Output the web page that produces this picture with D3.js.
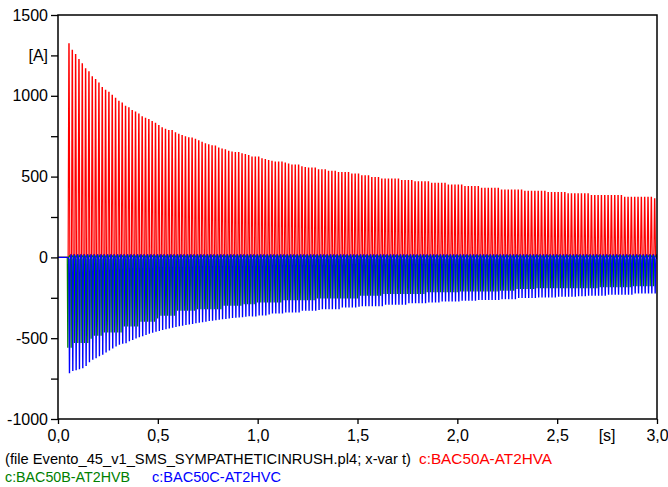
<!DOCTYPE html>
<html><head><meta charset="utf-8">
<script src="https://cdn.jsdelivr.net/npm/d3@7"></script>
<style>
body{margin:0;background:#fff}
svg{display:block}
text{font-family:"Liberation Sans",Arial,Helvetica,sans-serif}
</style>
</head><body>
<svg id="chart" width="668" height="487"></svg>
<script>
// ---- data ----
const xTicks = [0, 0.5, 1, 1.5, 2, 2.5, 3];
const xTickLabels = ["0,0", "0,5", "1,0", "1,5", "2,0", "2,5", "3,0"];
const xUnitLabel = "[s]";
const xUnitPos = 2.75;
const yTicks = [-1000, -750, -500, -250, 0, 250, 500, 750, 1000, 1250, 1500];
const yTickLabels = ["-1000", "", "-500", "", "0", "", "500", "", "1000", "[A]", "1500"];
const seriesNames = ["c:BAC50A-AT2HVA", "c:BAC50B-AT2HVB", "c:BAC50C-AT2HVC"];
const fileLabel = "(file Evento_45_v1_SMS_SYMPATHETICINRUSH.pl4; x-var t)";
const firstPulse = 0.055;   // s, first inrush peak
const period = 1 / 60;      // s, 60 Hz

// peak current of each cycle (A)
const redPeaks = [1321,1282,1255,1224,1197,1166,1148,1117,1100,1079,1050,1034,1021,1003,984,965,955,934,926,909,899,887,870,860,852,841,829,816,802,792,784,784,771,761,754,746,740,738,
730,722,712,703,697,690,689,676,670,666,657,652,649,649,641,636,630,620,620,620,610,605,599,594,589,589,589,583,578,571,571,571,560,556,552,552,552,541,541,541,533,533,533,525,525,525,525,515,515,515,504,504,504,494,494,494,
484,484,484,484,484,484,475,475,475,475,467,467,467,467,467,459,459,459,459,459,448,448,448,448,448,438,438,438,438,438,428,428,428,428,428,428,
417,417,417,417,417,417,417,409,409,409,409,409,409,409,401,401,401,401,401,401,393,393,393,393,393,393,393,
382,382,382,382,382,382,382,382,382,382,372,372,372,372,372,372,372,372,372,362];

const greenPeaks = [-555,-555,-527,-527,-527,-527,-527,-500,-482,-482,-482,-461,-461,-461,-461,-461,-461,-424,-424,-424,-424,-424,
-395,-395,-395,-395,-395,-375,-358,-358,-358,-358,-358,-327,-327,-327,-327,-327,-327,-317,-317,-317,-317,-317,-317,-317,-317,
-296,-296,-296,-296,-296,-296,-286,-286,-286,-286,-275,-275,-275,-275,-275,-275,-275,-275,-261,-261,-261,-261,-261,-261,-261,-261,-261,-261,
-251,-251,-251,-251,-251,-251,-251,-251,-251,-251,-251,-251,-251,-234,-234,-234,-234,-234,-234,-234,
-223,-223,-223,-223,-223,-223,-223,-223,-223,-223,-223,-223,-223,-213,-213,-213,-213,-213,-213,-213,-213,-213,-213,
-208,-208,-208,-208,-208,-208,-208,-208,-208,-208,-208,-208,-203,-203,-203,-203,-203,-192,-192,-192,-192,-192,-192,
-187,-187,-187,-187,-187,-187,-187,-187,-187,-187,-187,-187,-187,-187,-187,-187,-187,-187,-187,
-182,-182,-182,-182,-182,-182,-182,-182,-182,-182,-175,-175,-175,-175,-175,-175,-175];

const bluePeaks = [-713,-699,-695,-688,-682,-668,-645,-630,-620,-608,-598,-585,-573,-560,-547,-537,-530,-527,-515,-507,-498,-490,-484,-477,-468,-463,-456,-452,-446,-441,-437,-431,-427,-423,-419,-415,-411,-408,-404,-401,-397,-394,-390,-388,-385,-382,-379,-377,-374,-372,-370,-368,-366,-364,-360,
-362,-362,-356,-356,-356,-350,-344,-344,-344,-344,-337,-337,-337,-337,-337,-327,-327,-327,-327,-327,-322,-317,-317,-317,-317,-317,-317,
-306,-306,-306,-306,-306,-302,-298,-298,-298,-298,-298,-298,-298,-290,-290,-290,-290,-290,-290,-290,-280,-280,-280,-280,-280,-280,
-275,-275,-275,-275,-269,-269,-269,-269,-269,-269,-264,-264,-264,-264,-264,-260,-260,-260,-260,-260,-260,-260,
-255,-255,-255,-255,-255,-248,-248,-248,-248,-248,-248,-244,-244,-244,-244,-244,-244,-240,-240,-240,-240,-240,-240,
-237,-237,-237,-234,-234,-234,-234,-234,-234,-228,-228,-228,-228,-228,-228,-228,-228,-220,-220,-220,-220,-220,-220,-220];

const colors = ["#ff0000", "#008000", "#0000ff"];

// ---- layout ----
const svg = d3.select("#chart");
const L = 58, R = 657, T = 15, B = 419;
const x = d3.scaleLinear().domain([0, 3]).range([L, R]);
const y = d3.scaleLinear().domain([-1000, 1500]).range([B, T]);

svg.append("defs").append("clipPath").attr("id", "clip")
  .append("rect").attr("x", L).attr("y", T).attr("width", R - L).attr("height", B - T);

function pulseData(peaks, offset, hw, top, base, hump) {
  const pts = [{t: 0, v: 0}, {t: firstPulse + offset - period * 0.5, v: 0}];
  peaks.forEach((p, k) => {
    const tc = firstPulse + offset + k * period;
    pts.push({t: tc - hw, v: base}, {t: tc - top, v: p}, {t: tc + top, v: p},
             {t: tc + hw, v: base}, {t: tc + period * 0.5, v: hump});
  });
  pts.push({t: 3, v: base});
  return pts;
}

const line = d3.line().x(d => x(d.t)).y(d => y(d.v));
const g = svg.append("g").attr("clip-path", "url(#clip)");
const series = [
  pulseData(redPeaks, 0, 0.0042, 0.0007, 0, 12),
  pulseData(greenPeaks, -0.35 * period, 0.0030, 0.0005, 0, 10),
  pulseData(bluePeaks, 0.15 * period, 0.0034, 0.0005, -10, 18)
];
const widths = [1.2, 1.1, 1.2];
series.forEach((d, i) => {
  g.append("path").datum(d).attr("d", line)
    .attr("fill", "none").attr("stroke", colors[i]).attr("stroke-width", widths[i]);
});

// ---- frame & axes ----
svg.append("rect").attr("x", L).attr("y", T).attr("width", R - L).attr("height", B - T)
  .attr("fill", "none").attr("stroke", "#000").attr("stroke-width", 1.5);

const yAxis = d3.axisLeft(y).tickValues(yTicks).tickSize(7).tickPadding(3)
  .tickFormat((d, i) => yTickLabels[i]);
const ya = svg.append("g").attr("transform", `translate(${L},0)`).call(yAxis);
ya.select(".domain").remove();
ya.selectAll("line").attr("stroke", "#000").attr("stroke-width", 1.3);
ya.selectAll("text").attr("font-size", 16).attr("fill", "#000")
  .style("font-family", '"Liberation Sans", Arial, sans-serif');

const xAxis = d3.axisBottom(x).tickValues(xTicks).tickSize(5).tickPadding(6)
  .tickFormat((d, i) => xTickLabels[i]);
const xa = svg.append("g").attr("transform", `translate(0,${B})`).call(xAxis);
xa.select(".domain").remove();
xa.selectAll("line").attr("stroke", "#000").attr("stroke-width", 1.3);
xa.selectAll("text").attr("font-size", 16).attr("fill", "#000")
  .style("font-family", '"Liberation Sans", Arial, sans-serif');

svg.append("text").attr("x", x(xUnitPos)).attr("y", 441).attr("text-anchor", "middle")
  .attr("font-size", 16).text(xUnitLabel);

// ---- legend ----
const fs = 14.5;
svg.append("text").attr("x", 5).attr("y", 464).attr("font-size", fs).attr("fill", "#000")
  .attr("textLength", 406).attr("lengthAdjust", "spacingAndGlyphs").text(fileLabel);
svg.append("text").attr("x", 419).attr("y", 464).attr("font-size", fs).attr("fill", colors[0])
  .attr("textLength", 133).attr("lengthAdjust", "spacingAndGlyphs").text(seriesNames[0]);
svg.append("text").attr("x", 5).attr("y", 482).attr("font-size", fs).attr("fill", colors[1])
  .attr("textLength", 125).attr("lengthAdjust", "spacingAndGlyphs").text(seriesNames[1]);
svg.append("text").attr("x", 152).attr("y", 482).attr("font-size", fs).attr("fill", colors[2])
  .attr("textLength", 129).attr("lengthAdjust", "spacingAndGlyphs").text(seriesNames[2]);
</script>
</body></html>
